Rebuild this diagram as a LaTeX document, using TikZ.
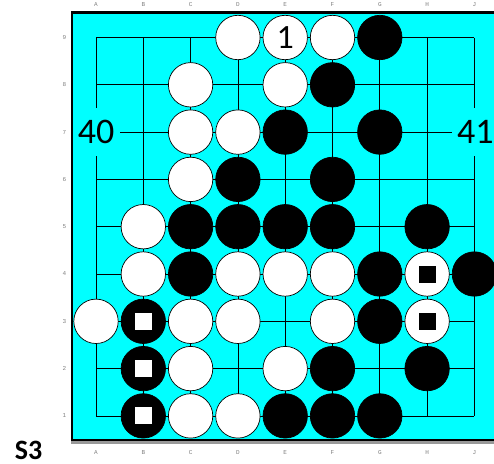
\documentclass[tikz,border=0pt]{standalone}
\usepackage{fontspec}
\newfontfamily\carlito{Carlito}
\newfontfamily\monof{Liberation Mono}
\definecolor{boardcyan}{RGB}{0,255,255}
\tikzset{
  gridline/.style={draw=black, line width=0.8pt},
  wstone/.style={circle, draw=black, fill=white, line width=0.7pt, minimum size=44.4pt, inner sep=0pt},
  bstone/.style={circle, draw=black, fill=black, line width=0.7pt, minimum size=44.4pt, inner sep=0pt},
  wmark/.style={rectangle, fill=white, minimum size=17pt, inner sep=0pt},
  bmark/.style={rectangle, fill=black, minimum size=17pt, inner sep=0pt},
  coordlabel/.style={text=black!50, font=\monof\fontsize{6}{7}\selectfont, inner sep=0pt},
  biglabel/.style={fill=boardcyan, minimum width=47pt, minimum height=48pt, inner sep=0pt, font=\carlito\fontsize{36}{40}\selectfont},
  numlabel/.style={font=\carlito\fontsize{34}{38}\selectfont, inner sep=0pt}
}
\begin{document}
\begin{tikzpicture}[x=1pt,y=-1pt]
\useasboundingbox (0,0) rectangle (494,463);
% board
\fill[boardcyan] (71,12) rectangle (494,440);
\fill[black!40] (71,440) rectangle (494,443.5);
\fill[black] (71,11) rectangle (494,13.5);
\fill[black] (70.5,11) rectangle (73,440);
\fill[black] (71,438.5) rectangle (494,440.5);
% coordinates
\foreach \c [count=\i from 0] in {A,B,C,D,E,F,G,H,J} {
  \foreach \r in {1,...,9} {
    \coordinate (\c\r) at ({96+47.3*\i},{37.5+47.3*(9-\r)});
  }
}
% grid
\foreach \r in {1,...,9} { \draw[gridline] (A\r) -- (J\r); }
\foreach \c in {A,B,C,D,E,F,G,H,J} { \draw[gridline] (\c9) -- (\c1); }
% board coordinate labels
\foreach \c [count=\i from 0] in {A,B,C,D,E,F,G,H,J} {
  \node[coordlabel] (top\c) at ({96+47.3*\i},4.5) {\c};
  \node[coordlabel] (bot\c) at ({96+47.3*\i},452.3) {\c};
}
\foreach \r in {1,...,9} {
  \node[coordlabel] (row\r) at (64.3,{37.5+47.3*(9-\r)}) {\r};
}
% labels 40 / 41
\node[biglabel] (l40) at (A7) {40};
\node[biglabel] (l41) at ([xshift=1pt]J7) {41};
% white stones
\foreach \p in {D9,E9,F9,C8,E8,C7,D7,C6,B5,B4,D4,E4,F4,H4,A3,C3,D3,F3,H3,C2,E2,C1,D1} {
  \node[wstone] (s\p) at (\p) {};
}
% black stones
\foreach \p in {G9,F8,E7,G7,D6,F6,C5,D5,E5,F5,H5,C4,G4,J4,B3,G3,B2,F2,H2,B1,E1,F1,G1} {
  \node[bstone] (s\p) at (\p) {};
}
% marks
\node[numlabel] (n1) at (sE9) {1};
\foreach \p in {B3,B2,B1} { \node[wmark] (m\p) at (s\p) {}; }
\foreach \p in {H4,H3} { \node[bmark] (m\p) at (s\p) {}; }
% diagram title
\node[font=\carlito\bfseries\fontsize{28}{30}\selectfont, inner sep=0pt, anchor=base] (title) at (28.7,459.6) {S3};
\end{tikzpicture}
\end{document}
